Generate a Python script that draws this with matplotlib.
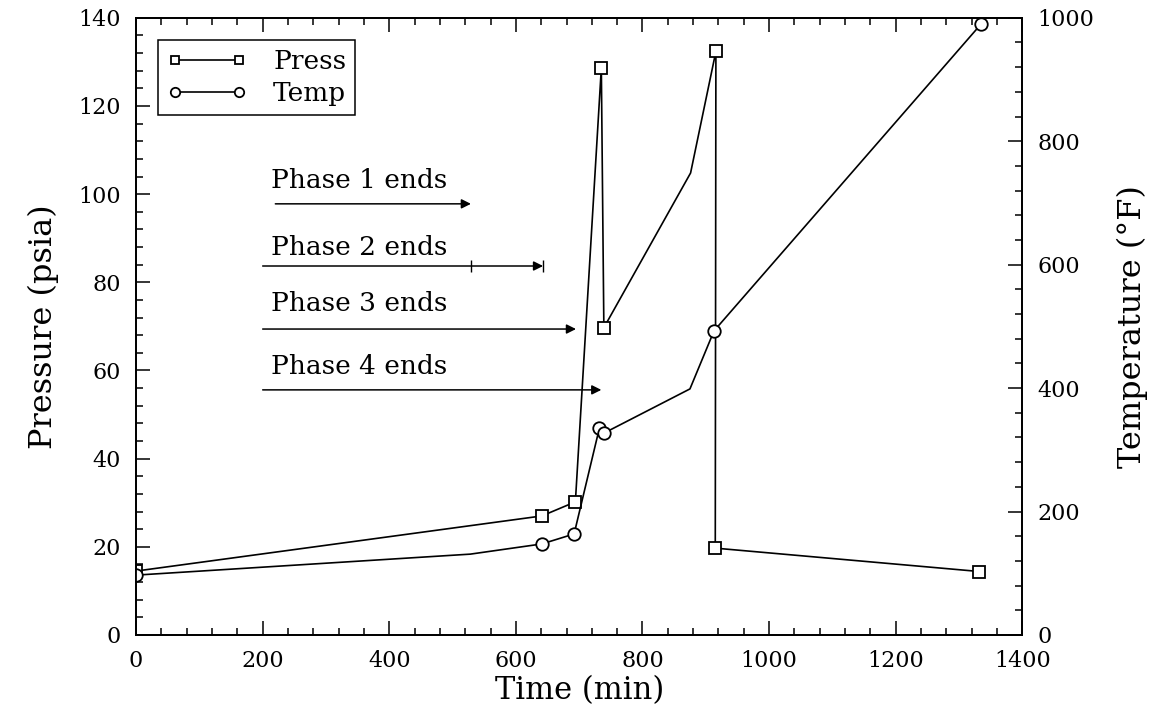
import matplotlib.pyplot as plt
from matplotlib.ticker import MultipleLocator

plt.rcParams.update({
    'font.family': 'DejaVu Serif',
    'xtick.direction': 'in',
    'ytick.direction': 'in',
})

# data
press_t = [0, 641, 694, 735, 739, 876, 916, 915, 1332]
press_p = [14.5, 27.0, 30.2, 128.6, 69.7, 104.8, 132.4, 19.7, 14.4]
press_mark = [0, 1, 2, 3, 4, 6, 7, 8]   # vertex at 876 has no marker

temp_t = [0, 528, 641, 692, 732, 739, 875, 913, 1335]
temp_f = [97, 131, 147.5, 163.7, 335.5, 327, 398.7, 492.7, 990]
temp_mark = [0, 2, 3, 4, 5, 7, 8]

phase_labels = ['Phase 1 ends', 'Phase 2 ends', 'Phase 3 ends', 'Phase 4 ends']
phase_end = [529, 643, 695, 735]
arrow_start = [220, 200, 200, 200]
arrow_y = [97.8, 83.7, 69.4, 55.6]
text_y = [103.2, 87.8, 75.3, 61.0]

fig = plt.figure(figsize=(11.63, 7.21), dpi=100)
ax = fig.add_axes([0.117, 0.1193, 0.762, 0.856])
ax2 = ax.twinx()

l1, = ax.plot(press_t, press_p, '-', color='black', lw=1.2,
              marker='s', markevery=press_mark, markersize=8,
              markerfacecolor='white', markeredgewidth=1.3, label='Press')
l2, = ax2.plot(temp_t, temp_f, '-', color='black', lw=1.2,
               marker='o', markevery=temp_mark, markersize=9,
               markerfacecolor='white', markeredgewidth=1.3, label='Temp')

# phase annotations
for lab, xe, xs, ya, yt in zip(phase_labels, phase_end, arrow_start, arrow_y, text_y):
    ax.annotate('', xy=(xe, ya), xytext=(xs, ya),
                arrowprops=dict(arrowstyle='-|>', lw=1.1, color='black',
                                mutation_scale=14, shrinkA=0, shrinkB=0))
    ax.text(213, yt, lab, fontsize=19, va='center', ha='left')
# small marks on the phase 2 arrow
ax.plot([phase_end[0], phase_end[1]], [arrow_y[1], arrow_y[1]], ls='none',
        marker='|', markersize=8, color='black', markeredgewidth=1)

ax.set_xlim(0, 1400)
ax.set_ylim(0, 140)
ax2.set_ylim(0, 1000)

ax.xaxis.set_major_locator(MultipleLocator(200))
ax.xaxis.set_minor_locator(MultipleLocator(40))
ax.yaxis.set_major_locator(MultipleLocator(20))
ax.yaxis.set_minor_locator(MultipleLocator(4))
ax2.yaxis.set_major_locator(MultipleLocator(200))
ax2.yaxis.set_minor_locator(MultipleLocator(40))

ax.tick_params(which='both', top=True, width=1.1)
ax.tick_params(which='major', length=10, labelsize=16, pad=11)
ax.tick_params(which='minor', length=5)
ax2.tick_params(which='both', width=1.1)
ax2.tick_params(which='major', length=10, labelsize=16, pad=11)
ax2.tick_params(which='minor', length=5)

for a in (ax, ax2):
    for s in a.spines.values():
        s.set_linewidth(1.3)

ax.set_xlabel('Time (min)', fontsize=22, labelpad=2)
ax.set_ylabel('Pressure (psia)', fontsize=23, labelpad=14)
ax2.set_ylabel('Temperature (°F)', fontsize=23, labelpad=16)

leg = ax2.legend([l1, l2], ['Press', 'Temp'], loc='upper left',
                 bbox_to_anchor=(0.025, 0.964), borderaxespad=0,
                 fontsize=19, numpoints=2, handlelength=3.0,
                 markerscale=0.75,
                 fancybox=False, framealpha=1, edgecolor='black',
                 borderpad=0.35, labelspacing=0.25, handletextpad=1.0)
leg.get_frame().set_linewidth(1.1)

fig.savefig('out.png', dpi=100)
